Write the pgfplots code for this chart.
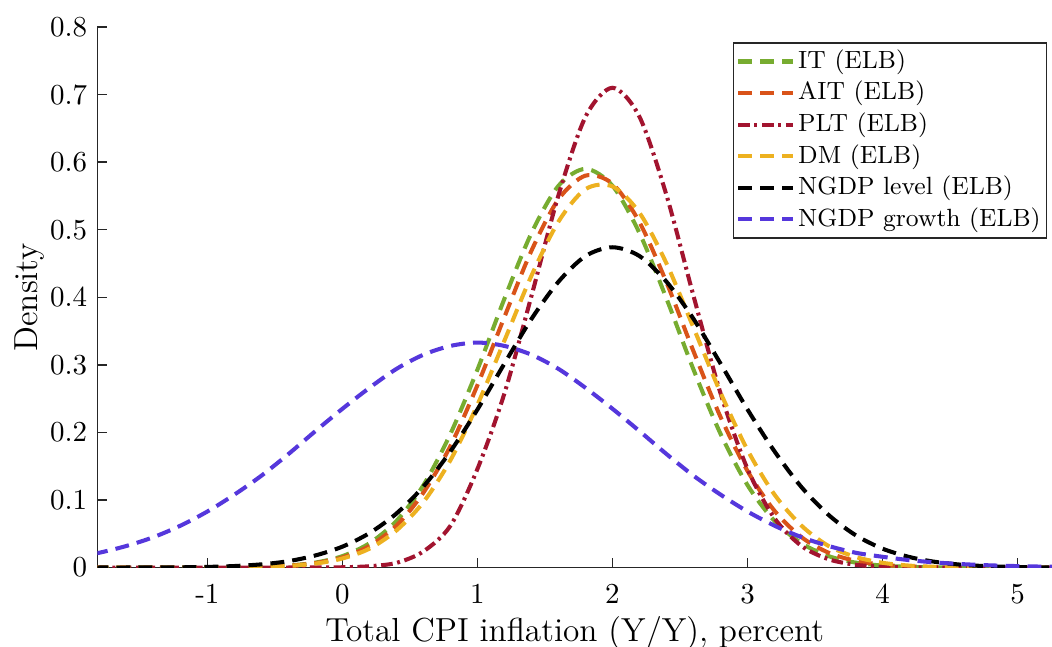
\documentclass[border=0pt]{standalone}
\usepackage{pgfplots}
\pgfplotsset{compat=1.18}
\usepackage{pgfplotstable}
\definecolor{cIT}{RGB}{119,172,48}
\definecolor{cAIT}{RGB}{217,83,25}
\definecolor{cPLT}{RGB}{162,20,47}
\definecolor{cDM}{RGB}{237,177,32}
\definecolor{cNG}{RGB}{85,55,220}
\definecolor{axgray}{RGB}{38,38,38}
\pgfplotstableread{
x    it      ait     plt     dm      nl      ng
-2.0 0       0       0       0       0.0000  0.0145
-1.8 0       0       0       0       0.0001  0.022
-1.6 0       0       0       0       0.0001  0.032
-1.4 0       0       0       0       0.0002  0.045
-1.2 0       0       0       0       0.0004  0.062
-1.0 0.0001  0.0001  0       0.0001  0.0010  0.083
-0.8 0.0004  0.0004  0       0.0003  0.0023  0.108
-0.6 0.0011  0.0010  0       0.0009  0.0048  0.136
-0.4 0.0030  0.0027  0.0001  0.0024  0.0095  0.168
-0.2 0.0074  0.0067  0.0002  0.0059  0.018   0.202
0.0  0.017   0.015   0.0005  0.0135  0.031   0.235
0.2  0.036   0.032   0.0020  0.028   0.051   0.266
0.4  0.069   0.062   0.0070  0.055   0.080   0.294
0.6  0.122   0.111   0.024   0.097   0.120   0.315
0.8  0.198   0.180   0.062   0.159   0.172   0.328
1.0  0.293   0.270   0.146   0.241   0.234   0.333
1.2  0.398   0.371   0.258   0.336   0.302   0.328
1.4  0.495   0.469   0.402   0.432   0.368   0.315
1.6  0.565   0.545   0.551   0.512   0.423   0.294
1.8  0.590   0.580   0.667   0.560   0.461   0.266
2.0  0.565   0.568   0.710   0.564   0.474   0.235
2.2  0.495   0.511   0.667   0.525   0.461   0.202
2.4  0.398   0.422   0.551   0.450   0.423   0.168
2.6  0.293   0.320   0.402   0.355   0.368   0.136
2.8  0.198   0.223   0.258   0.259   0.302   0.108
3.0  0.122   0.143   0.146   0.174   0.234   0.083
3.2  0.069   0.084   0.073   0.108   0.172   0.062
3.4  0.036   0.045   0.032   0.062   0.119   0.045
3.6  0.017   0.022   0.0124  0.032   0.078   0.032
3.8  0.0074  0.010   0.0042  0.0158  0.048   0.022
4.0  0.0030  0.0043  0.0013  0.0071  0.028   0.016
4.2  0.0011  0.0016  0.0003  0.0029  0.0156  0.011
4.4  0.0004  0.0006  0.0001  0.0011  0.0082  0.0075
4.6  0.0001  0.0002  0       0.0004  0.0040  0.0050
4.8  0       0.0001  0       0.0001  0.0019  0.0033
5.0  0       0       0       0       0.0008  0.0022
5.2  0       0       0       0       0.0003  0.0014
5.4  0       0       0       0       0.0001  0.0009
}\dens

\begin{document}
\begin{tikzpicture}
\path[use as bounding box] (-33.6pt,-27.3pt) rectangle (329.5pt,195.9pt);
\begin{axis}[
  scale only axis, width=329.5pt, height=186.6pt,
  xmin=-1.815, xmax=5.255, ymin=0, ymax=0.8,
  axis x line*=bottom, axis y line*=left,
  axis line style={draw=axgray, line width=0.5pt, -},
  xtick={-1,0,1,2,3,4,5}, xticklabels={-1,0,1,2,3,4,5},
  ytick={0,0.1,0.2,0.3,0.4,0.5,0.6,0.7,0.8},
  yticklabels={0,0.1,0.2,0.3,0.4,0.5,0.6,0.7,0.8},
  tick align=inside, major tick length=3.3pt,
  tick style={draw=axgray, line width=0.5pt},
  xticklabel style={yshift=-2.2pt},
  xlabel={Total CPI inflation (Y/Y), percent}, ylabel={Density},
  xlabel shift=-2.5pt, ylabel shift=-5pt,
  label style={font=\fontsize{11.5}{13}\selectfont},
  tick label style={font=\fontsize{10}{12}\selectfont},
  legend style={at={(0.995,0.972)}, anchor=north east, draw=axgray, line width=0.5pt,
    font=\fontsize{8.6}{10.5}\selectfont, cells={anchor=west}, inner xsep=1pt, inner ysep=1pt,
    row sep=0pt, nodes={inner sep=1pt, text height=6.8pt, text depth=2.1pt}},
  legend image code/.code={\draw[#1] (0pt,0pt) -- (19pt,0pt);},
  every axis plot/.append style={line width=1.4pt, smooth},
]
\addplot[cIT, dash pattern=on 4.8pt off 2.8pt] table[x=x,y=it] {\dens};
\addlegendentry{IT (ELB)}
\addplot[cAIT, dash pattern=on 4.8pt off 2.8pt] table[x=x,y=ait] {\dens};
\addlegendentry{AIT (ELB)}
\addplot[cPLT, dash pattern=on 4pt off 1.6pt on 1pt off 1.6pt] table[x=x,y=plt] {\dens};
\addlegendentry{PLT (ELB)}
\addplot[cDM, dash pattern=on 4.8pt off 2.8pt] table[x=x,y=dm] {\dens};
\addlegendentry{DM (ELB)}
\addplot[black, dash pattern=on 4.8pt off 2.8pt] table[x=x,y=nl] {\dens};
\addlegendentry{NGDP level (ELB)}
\addplot[cNG, dash pattern=on 4.8pt off 2.8pt] table[x=x,y=ng] {\dens};
\addlegendentry{NGDP growth (ELB)}
\end{axis}
\end{tikzpicture}
\end{document}
